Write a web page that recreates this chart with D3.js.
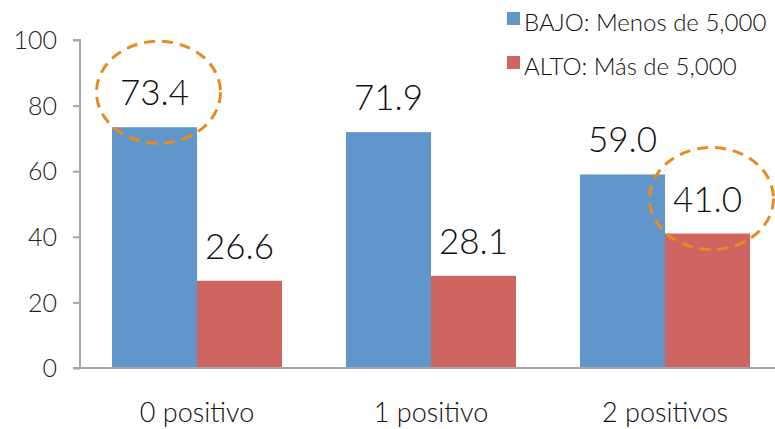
<!DOCTYPE html>
<html><head><meta charset="utf-8">
<script src="https://cdn.jsdelivr.net/npm/d3@7"></script>
<style>html,body{margin:0;padding:0;background:#fff;}svg{display:block;}</style>
</head><body>
<svg id="chart" width="775" height="429"></svg>
<script>
const categories = ["0 positivo", "1 positivo", "2 positivos"];
const seriesNames = ["BAJO: Menos de 5,000", "ALTO: Más de 5,000"];
const bajoValues = [73.4, 71.9, 59.0];
const altoValues = [26.6, 28.1, 41.0];
const yTicks = [0, 20, 40, 60, 80, 100];
const highlighted = [[0, 0], [2, 1]]; // [category index, series index]

const colors = ["#6096C9", "#CE6560"];
const font = "Lato, 'Open Sans', sans-serif";
const svg = d3.select("#chart");

const x0 = d3.scaleBand().domain(d3.range(categories.length)).range([80, 782]).paddingInner(0.2735).paddingOuter(0.1368);
const x1 = d3.scaleBand().domain([0, 1]).range([0, x0.bandwidth()]);
const y = d3.scaleLinear().domain([0, 100]).range([368, 40]);

const data = categories.map((c, i) => ({c, i, vals: [bajoValues[i], altoValues[i]]}));

// axes
const yAxis = svg.append("g").attr("transform", "translate(80,0)")
  .call(d3.axisLeft(y).tickValues(yTicks).tickSize(7).tickFormat(d3.format("d")));
yAxis.select(".domain").attr("stroke", "#A6A6A6").attr("stroke-width", 2).attr("d", `M-7,${y(100)}H0V${y(0)}`);
yAxis.selectAll(".tick line").attr("stroke", "#A6A6A6").attr("stroke-width", 2);
yAxis.selectAll(".tick text").attr("x", -23).attr("dy", "0.35em")
  .style("font-family", font).style("font-weight", 300).style("font-size", "25px").attr("fill", "#222");

// bars
const groups = svg.append("g").selectAll("g").data(data).join("g")
  .attr("transform", d => `translate(${x0(d.i)},0)`);
groups.selectAll("rect").data(d => d.vals.map((v, s) => ({v, s}))).join("rect")
  .attr("x", d => x1(d.s)).attr("width", x1.bandwidth())
  .attr("y", d => y(d.v)).attr("height", d => y(0) - y(d.v))
  .attr("fill", d => colors[d.s]);
groups.selectAll("text.val").data(d => d.vals.map((v, s) => ({v, s}))).join("text")
  .attr("class", "val")
  .attr("x", d => x1(d.s) + x1.bandwidth() / 2)
  .attr("y", d => y(d.v) - 22)
  .attr("text-anchor", "middle")
  .style("font-family", font).style("font-weight", 300).style("font-size", "35px").attr("fill", "#111")
  .text(d => d3.format(".1f")(d.v));

// x axis
const xAxis = svg.append("g").attr("transform", `translate(0,${y(0)})`);
xAxis.append("line").attr("x1", 73).attr("x2", 775).attr("stroke", "#A6A6A6").attr("stroke-width", 2);
xAxis.selectAll("text").data(data).join("text")
  .attr("x", d => x0(d.i) + x0.bandwidth() / 2).attr("y", 54)
  .attr("text-anchor", "middle")
  .style("font-family", font).style("font-weight", 300).style("font-size", "27px").attr("fill", "#111")
  .text(d => d.c);

// highlight ellipses
svg.append("g").selectAll("ellipse").data(highlighted).join("ellipse")
  .attr("cx", d => x0(d[0]) + x1(d[1]) + x1.bandwidth() / 2 + 4)
  .attr("cy", d => y(data[d[0]].vals[d[1]]) - 35)
  .attr("rx", 62).attr("ry", 51)
  .attr("fill", "none").attr("stroke", "#EA8A1F").attr("stroke-width", 3).attr("stroke-dasharray", "11,7");

// legend
const legend = svg.append("g").selectAll("g").data(seriesNames).join("g")
  .attr("transform", (d, i) => `translate(507,${12 + i * 44})`);
legend.append("rect").attr("width", 13).attr("height", 13).attr("fill", (d, i) => colors[i]);
legend.append("text").attr("x", 17).attr("y", 19)
  .style("font-family", font).style("font-weight", 300).style("font-size", "24px").attr("fill", "#111")
  .text(d => d);
</script>
</body></html>
